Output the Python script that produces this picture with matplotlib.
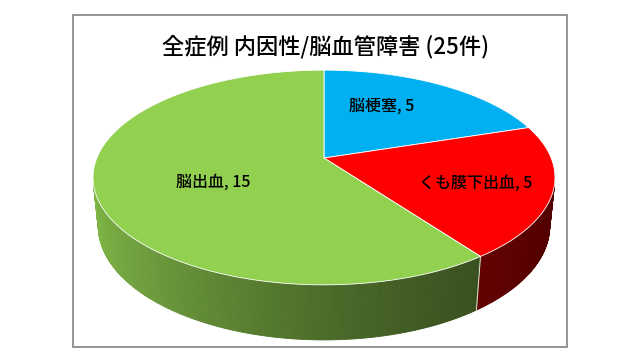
import matplotlib
matplotlib.use("Agg")
import matplotlib.pyplot as plt
import matplotlib.patches as patches
import numpy as np

plt.rcParams['font.family'] = ['Noto Sans CJK JP', 'DejaVu Sans']

# data
title = '全症例 内因性/脳血管障害 (25件)'
labels = ['脳梗塞', 'くも膜下出血', '脳出血']
values = [5, 5, 15]
colors = ['#00B0F0', '#FF0000', '#92D050']

# view of the 3d pie (pixel space)
elev = np.deg2rad(27.2)
dist = 4.90
focal = 1113.0
depth = 0.2435
cx, cy = 324, 158

# label anchors: (radius, angle clockwise from 12 o'clock)
label_pos = [(0.62, 27), (0.68, 110), (0.52, 244)]


def proj(phi, r=1.0, z=0.0):
    phi = np.deg2rad(phi)
    u = r*np.sin(phi)
    v = r*np.cos(phi)
    zc = v*np.cos(elev) + dist - z*np.sin(elev)
    yc = v*np.sin(elev) + z*np.cos(elev)
    return cx + focal*u/zc, cy - focal*yc/zc


def shade(hexcol, phi):
    u = np.sin(np.deg2rad(phi))
    k = np.clip(0.52 - 0.28*u + 0.08*u*u, 0, 1)
    rgb = np.array(matplotlib.colors.to_rgb(hexcol))
    return tuple(rgb*k)


fig = plt.figure(figsize=(6.4, 3.6), dpi=100)
ax = fig.add_axes([0, 0, 1, 1])
ax.set_xlim(0, 640)
ax.set_ylim(360, 0)
ax.axis('off')

total = float(sum(values))
bounds = np.concatenate([[0], np.cumsum(values)])/total*360

# side walls, only the part that faces the viewer
vis = np.rad2deg(np.arccos(-1.0/(dist*np.cos(elev))))
for i in range(len(values)):
    a0 = max(bounds[i], vis)
    a1 = min(bounds[i+1], 360 - vis)
    if a1 <= a0:
        continue
    phis = np.linspace(a0, a1, int((a1 - a0)*2) + 2)
    for p0, p1 in zip(phis[:-1], phis[1:]):
        x0, y0 = proj(p0)
        x1, y1 = proj(p1)
        x2, y2 = proj(p1, z=-depth)
        x3, y3 = proj(p0, z=-depth)
        c = shade(colors[i], (p0 + p1)/2)
        ax.add_patch(patches.Polygon([(x0, y0), (x1, y1), (x2, y2), (x3, y3)],
                                     closed=True, fc=c, ec=c, lw=0.6))
    if bounds[i] > vis and bounds[i] < 360 - vis:
        xa, ya = proj(bounds[i])
        xb, yb = proj(bounds[i], z=-depth)
        ax.plot([xa, xb], [ya, yb], color='#e8e8d0', lw=0.7)

# top faces
for i in range(len(values)):
    phis = np.linspace(bounds[i], bounds[i+1], 200)
    xs, ys = proj(phis)
    pts = [(cx, cy)] + list(zip(xs, ys))
    ax.add_patch(patches.Polygon(pts, closed=True, fc=colors[i], ec='white', lw=0.6))

# labels
for i in range(len(values)):
    r, a = label_pos[i]
    lx, ly = proj(a, r=r)
    ax.text(lx, ly, '%s, %d' % (labels[i], values[i]), fontsize=11.5,
            ha='center', va='center', color='black', fontweight='medium')

ax.text(326, 47, title, fontsize=16, ha='center', va='center', fontweight='medium')

ax.add_patch(patches.Rectangle((73, 15), 494, 332, fill=False, ec='#8c8c8c', lw=1.3))

plt.savefig('out.png', dpi=100)
